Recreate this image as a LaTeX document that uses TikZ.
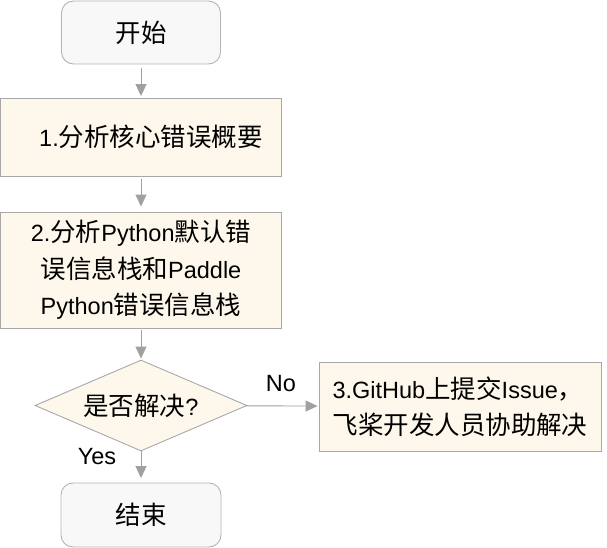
\documentclass[tikz,border=0pt]{standalone}
\usepackage{fontspec}
\setmainfont{Liberation Sans}
\newfontfamily\cjkfont[Scale=1.085]{Noto Sans CJK SC}
\newcommand\zh[1]{{\cjkfont #1}}
\usetikzlibrary{shapes.geometric,arrows.meta}
\definecolor{cream}{HTML}{FDF8EB}
\definecolor{boxline}{HTML}{A8A8A8}
\definecolor{termfill}{HTML}{F8F8F8}
\definecolor{termline}{HTML}{B4B4B4}
\definecolor{arrowgray}{HTML}{A0A0A0}
\tikzset{
  every node/.style={font=\fontsize{23.5}{36.5}\selectfont, text=black},
  term/.style={draw=termline, fill=termfill, rounded corners=12pt, line width=0.9pt, inner sep=0pt},
  procbox/.style={draw=boxline, fill=cream, line width=0.9pt, inner sep=0pt, align=center},
  decision/.style={diamond, draw=boxline, fill=cream, line width=0.9pt, inner sep=0pt, aspect=2.33, minimum width=212pt, minimum height=91pt},
  flow/.style={draw=arrowgray, line width=0.9pt, -{Triangle[length=12pt,width=11pt]}},
  lbl/.style={inner sep=0pt}
}
\begin{document}
\begin{tikzpicture}[x=1pt,y=1pt]
\useasboundingbox (0,0) rectangle (607,-548);
\node[term, minimum width=159pt, minimum height=63pt] (start) at (141,-32.5) {\zh{开始}};
\node[procbox, minimum width=281pt, minimum height=78pt] (b1) at (141,-137) {\hspace*{20pt}1.\zh{分析核心错误概要}};
\node[procbox, minimum width=281pt, minimum height=116pt] (b2) at (141,-270) {2.\zh{分析}Python\zh{默认错}\\\zh{误信息栈和}Paddle\\Python\zh{错误信息栈}};
\node[decision] (dec) at (141,-405.5) {\zh{是否解决}?};
\node[procbox, align=left, minimum width=282pt, minimum height=89pt] (b3) at (460,-406.5) {3.GitHub\zh{上提交}Issue\zh{，}\\\zh{飞桨开发人员协助解决}};
\node[term, minimum width=160pt, minimum height=64pt] (end) at (141,-515) {\zh{结束}};
\node[lbl] (yes) at (97,-457) {Yes};
\node[lbl] (no) at (281,-383.5) {No};
\draw[flow, shorten <=4pt, shorten >=1.5pt] (start) -- (b1);
\draw[flow, shorten <=3pt, shorten >=5pt] (b1) -- (b2);
\draw[flow, shorten <=2pt, shorten >=1pt] (b2) -- (dec);
\draw[flow, shorten >=4.5pt] (dec) -- (end);
\draw[flow, shorten >=1pt] (dec) -- (b3);
\end{tikzpicture}
\end{document}
